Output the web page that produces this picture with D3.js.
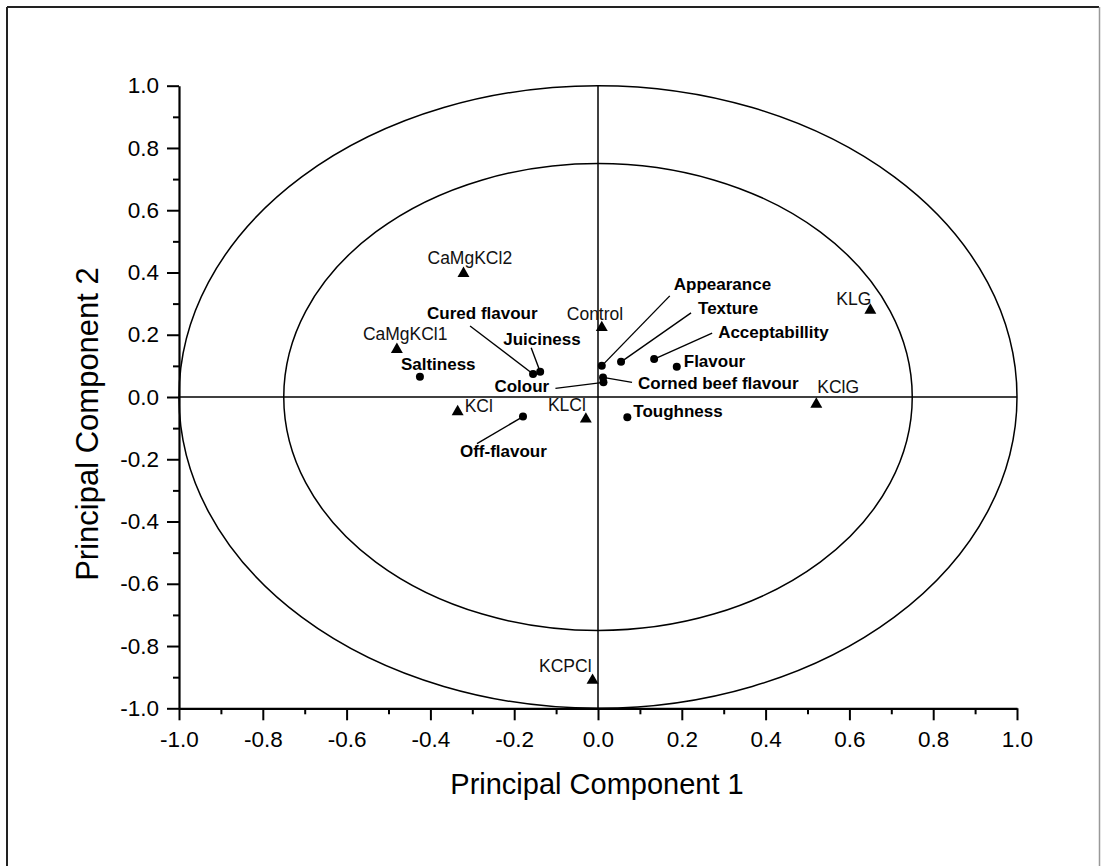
<!DOCTYPE html>
<html>
<head>
<meta charset="utf-8">
<script src="https://cdn.jsdelivr.net/npm/d3@7"></script>
<style>
  html, body { margin: 0; padding: 0; background: #fff; }
  svg { display: block; font-family: "Liberation Sans", Arial, sans-serif; }
</style>
</head>
<body>
<svg id="chart" width="1101" height="866"></svg>
<script>
// ---------- data ----------
const sampleNames = ["CaMgKCl2", "CaMgKCl1", "KCl", "KLCl", "Control", "KClG", "KLG", "KCPCl"];
const samplePC1   = [-0.321, -0.480, -0.335, -0.029, 0.009, 0.521, 0.650, -0.013];
const samplePC2   = [ 0.400,  0.156, -0.044, -0.068, 0.226, -0.020, 0.282, -0.907];

const attrNames = ["Saltiness", "Cured flavour", "Juiciness", "Colour", "Off-flavour",
                   "Appearance", "Texture", "Acceptabillity", "Flavour", "Corned beef flavour", "Toughness"];
const attrPC1   = [-0.425, -0.155, -0.138, 0.013, -0.179, 0.009, 0.055, 0.134, 0.188, 0.012, 0.070];
const attrPC2   = [ 0.065,  0.074,  0.081, 0.047, -0.063, 0.100, 0.113, 0.122, 0.097, 0.063, -0.065];

const circleRadii = [1.0, 0.75];
const xTickValues = [-1.0, -0.8, -0.6, -0.4, -0.2, 0.0, 0.2, 0.4, 0.6, 0.8, 1.0];
const yTickValues = [-1.0, -0.8, -0.6, -0.4, -0.2, 0.0, 0.2, 0.4, 0.6, 0.8, 1.0];
const minorTickValues = [-0.9, -0.7, -0.5, -0.3, -0.1, 0.1, 0.3, 0.5, 0.7, 0.9];
const xTitle = "Principal Component 1";
const yTitle = "Principal Component 2";

// ---------- label layout (pixel offsets from the mark) ----------
const sampleLabelLayout = {
  "CaMgKCl2": {dx: -36, dy: -8, anchor: "start"},
  "CaMgKCl1": {dx: -34, dy: -8, anchor: "start"},
  "KCl":      {dx: 7,   dy: 1,  anchor: "start"},
  "KLCl":     {dx: 0,   dy: -7, anchor: "end"},
  "Control":  {dx: -35, dy: -7, anchor: "start"},
  "KClG":     {dx: 1,   dy: -10, anchor: "start"},
  "KLG":      {dx: 1,   dy: -4, anchor: "end"},
  "KCPCl":    {dx: -1,  dy: -7, anchor: "end"}
};
const attrLabelLayout = {
  "Saltiness":           {dx: -19,  dy: -7},
  "Cured flavour":       {dx: -106, dy: -55, lx: -63, ly: -48},
  "Juiciness":           {dx: -37,  dy: -27, lx: -9,  ly: -24},
  "Colour":              {dx: -109, dy: 10,  lx: -48, ly: 6},
  "Off-flavour":         {dx: -63,  dy: 40,  lx: -46, ly: 27},
  "Appearance":          {dx: 72,   dy: -76, lx: 68,  ly: -70},
  "Texture":             {dx: 77,   dy: -48, lx: 70,  ly: -49},
  "Acceptabillity":      {dx: 64,   dy: -21, lx: 58,  ly: -26},
  "Flavour":             {dx: 7,    dy: 0},
  "Corned beef flavour": {dx: 35,   dy: 12,  lx: 29,  ly: 5},
  "Toughness":           {dx: 6,    dy: 0}
};

// ---------- drawing ----------
const svg = d3.select("#chart");
const W = 1101, H = 866;

// outer frame
svg.append("line").attr("x1", 7).attr("y1", 7).attr("x2", 1099).attr("y2", 7)
  .attr("stroke", "#222").attr("stroke-width", 2);
svg.append("line").attr("x1", 7).attr("y1", 7).attr("x2", 7).attr("y2", H)
  .attr("stroke", "#222").attr("stroke-width", 2);
svg.append("line").attr("x1", 1099.5).attr("y1", 7).attr("x2", 1099.5).attr("y2", H)
  .attr("stroke", "#999").attr("stroke-width", 1.5);

const x = d3.scaleLinear().domain([-1, 1]).range([179, 1017]);
const y = d3.scaleLinear().domain([-1, 1]).range([708.3, 85.7]);

const fmt = d => (Math.abs(d) < 1e-9 ? 0 : d).toFixed(1);

// ellipses
svg.append("g").selectAll("ellipse").data(circleRadii).join("ellipse")
  .attr("cx", x(0)).attr("cy", y(0))
  .attr("rx", r => x(r) - x(0))
  .attr("ry", r => y(0) - y(r))
  .attr("fill", "none").attr("stroke", "#000").attr("stroke-width", 1.5);

// centre cross lines
svg.append("line").attr("x1", x(-1)).attr("x2", x(1)).attr("y1", y(0)).attr("y2", y(0))
  .attr("stroke", "#000").attr("stroke-width", 1.5);
svg.append("line").attr("x1", x(0)).attr("x2", x(0)).attr("y1", y(-1)).attr("y2", y(1))
  .attr("stroke", "#000").attr("stroke-width", 1.5);

// axes
const xAxisG = svg.append("g").attr("transform", `translate(0,${y(-1)})`);
xAxisG.call(d3.axisBottom(x).tickValues(minorTickValues).tickSize(6).tickSizeOuter(0).tickFormat(""));
xAxisG.call(g => g.select(".domain").remove());
svg.append("g").attr("transform", `translate(0,${y(-1)})`)
  .call(d3.axisBottom(x).tickValues(xTickValues).tickSize(12).tickSizeOuter(0).tickPadding(11).tickFormat(fmt));

const yAxisG = svg.append("g").attr("transform", `translate(${x(-1)},0)`);
yAxisG.call(d3.axisLeft(y).tickValues(minorTickValues).tickSize(6).tickSizeOuter(0).tickFormat(""));
yAxisG.call(g => g.select(".domain").remove());
svg.append("g").attr("transform", `translate(${x(-1)},0)`)
  .call(d3.axisLeft(y).tickValues(yTickValues).tickSize(12).tickSizeOuter(0).tickPadding(8).tickFormat(fmt));

svg.selectAll(".tick line").attr("stroke", "#000").attr("stroke-width", 2);
svg.selectAll(".domain").attr("stroke", "#000").attr("stroke-width", 2.2);
svg.selectAll(".tick text").attr("fill", "#000")
  .style("font-family", "'Liberation Sans', Arial, sans-serif").style("font-size", "22.5px");

// axis titles
svg.append("text").attr("x", (x(-1) + x(1)) / 2 - 1).attr("y", 794)
  .attr("text-anchor", "middle").style("font-size", "29px").text(xTitle);
svg.append("text").attr("transform", `translate(98,424) rotate(-90)`)
  .attr("text-anchor", "middle").style("font-size", "31px").text(yTitle);

// attribute leader lines
const attrs = attrNames.map((n, i) => ({name: n, pc1: attrPC1[i], pc2: attrPC2[i]}));
svg.append("g").selectAll("line").data(attrs.filter(d => attrLabelLayout[d.name].lx !== undefined)).join("line")
  .attr("x1", d => x(d.pc1)).attr("y1", d => y(d.pc2))
  .attr("x2", d => x(d.pc1) + attrLabelLayout[d.name].lx)
  .attr("y2", d => y(d.pc2) + attrLabelLayout[d.name].ly)
  .attr("stroke", "#000").attr("stroke-width", 1.4);

// attribute points
svg.append("g").selectAll("circle").data(attrs).join("circle")
  .attr("cx", d => x(d.pc1)).attr("cy", d => y(d.pc2)).attr("r", 4).attr("fill", "#000");

svg.append("g").selectAll("text").data(attrs).join("text")
  .attr("x", d => x(d.pc1) + attrLabelLayout[d.name].dx)
  .attr("y", d => y(d.pc2) + attrLabelLayout[d.name].dy)
  .style("font-size", "17px").style("font-weight", "bold")
  .text(d => d.name);

// sample points
const samples = sampleNames.map((n, i) => ({name: n, pc1: samplePC1[i], pc2: samplePC2[i]}));
svg.append("g").selectAll("path").data(samples).join("path")
  .attr("transform", d => `translate(${x(d.pc1)},${y(d.pc2) + 1})`)
  .attr("d", d3.symbol(d3.symbolTriangle, 62))
  .attr("fill", "#000");

svg.append("g").selectAll("text").data(samples).join("text")
  .attr("x", d => x(d.pc1) + sampleLabelLayout[d.name].dx)
  .attr("y", d => y(d.pc2) + sampleLabelLayout[d.name].dy)
  .attr("text-anchor", d => sampleLabelLayout[d.name].anchor)
  .style("font-size", "17.5px").attr("fill", "#111")
  .text(d => d.name);
</script>
</body>
</html>
